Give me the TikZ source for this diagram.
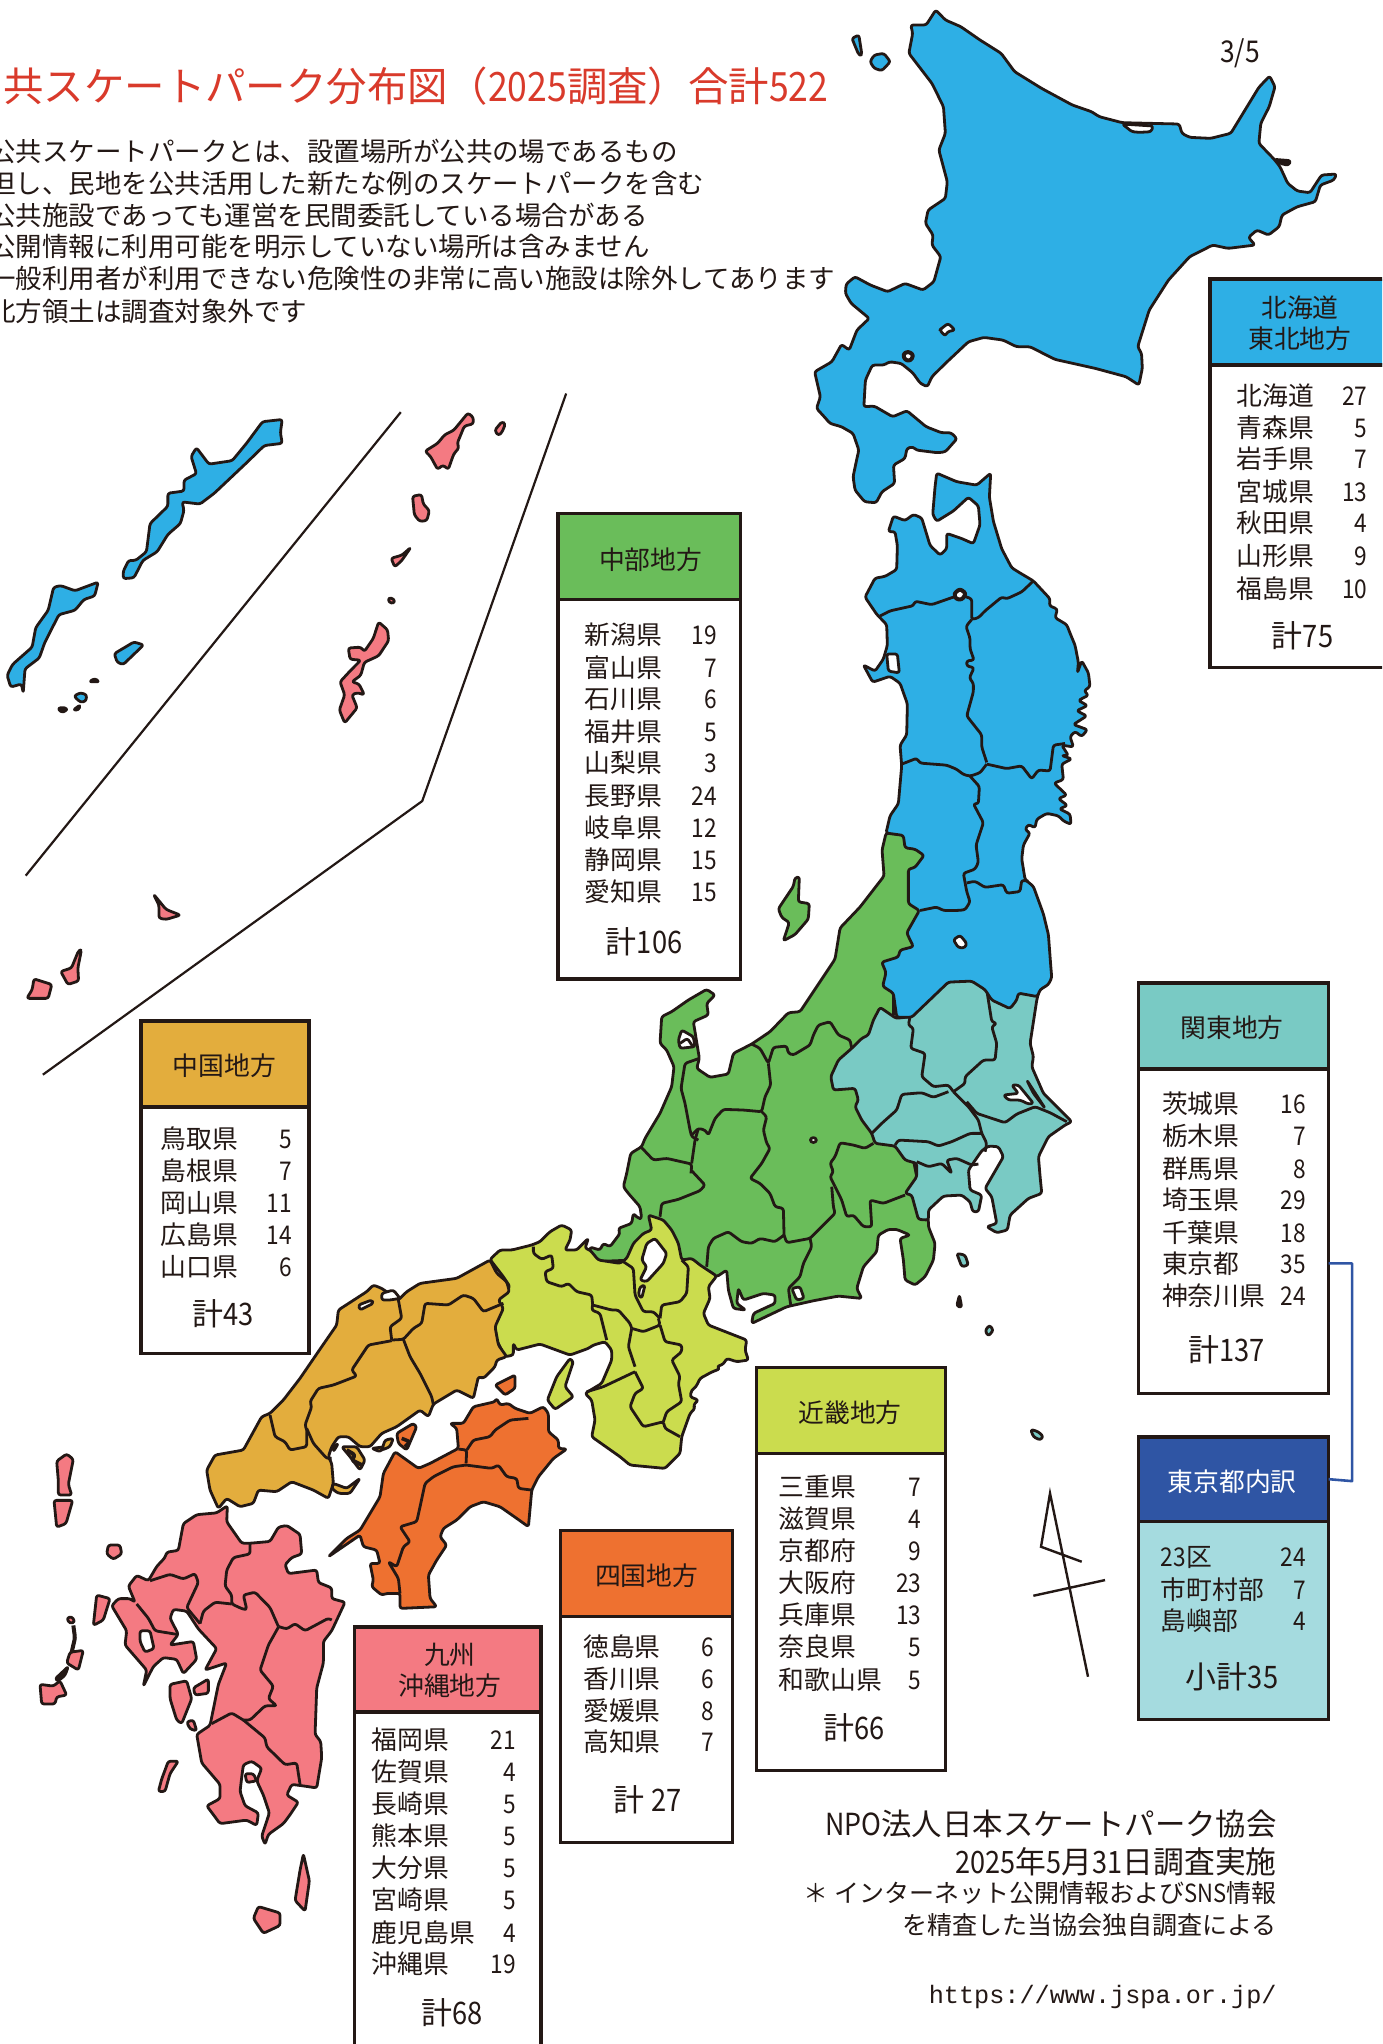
\documentclass[tikz,border=0pt]{standalone}
\usepackage{fontspec}
\setmainfont{Noto Sans CJK JP}
\newfontfamily\nar[FakeStretch=0.88]{Noto Sans CJK JP}
\newfontfamily\urlf{Liberation Mono}
\definecolor{ln}{HTML}{231815}
\definecolor{cblue}{HTML}{2EAFE5}
\definecolor{cgreen}{HTML}{6ABD5A}
\definecolor{cteal}{HTML}{79CAC4}
\definecolor{ckinki}{HTML}{CBDC4E}
\definecolor{cchu}{HTML}{E3AD3D}
\definecolor{cshi}{HTML}{EE7130}
\definecolor{ckyu}{HTML}{F47A82}
\definecolor{ctitle}{HTML}{D93A2B}
\definecolor{cnavy}{HTML}{2F55A4}
\definecolor{clight}{HTML}{A5DBDF}
\newcounter{nn}
\tikzset{
 reg/.style={draw=ln,line width=1.4pt,line join=round,rounded corners=1.2pt},
 bd/.style={draw=ln,line width=1.4pt,line join=round,rounded corners=1.2pt},
 lake/.style={reg,fill=white},
 lin/.style={draw=ln,line width=1.1pt},
 z1/.style={shift={(780,0)},x=.1923pt,y=-.1667pt},
 z2/.style={shift={(780,480)},x=.1667pt,y=-.1722pt},
 z3/.style={shift={(600,960)},x=.1667pt,y=-.1667pt},
 z4/.style={shift={(470,1170)},x=.1667pt,y=-.1667pt},
 z5/.style={shift={(190,1250)},x=.1667pt,y=-.1667pt},
 z6/.style={shift={(30,1420)},x=.1667pt,y=-.1786pt},
 z7/.style={shift={(0,400)},x=.1786pt,y=-.2168pt},
 z9/.style={shift={(1000,1240)},x=.1667pt,y=-.1667pt},
 disp/.style={x=.6519pt,y=-.6519pt},
 txt/.style={inner sep=0pt,text=ln,text height=11.4pt,text depth=1.4pt,font=\fontsize{12.9pt}{14pt}\selectfont},
 tot/.style={inner sep=0pt,text=ln,font=\fontsize{15.5pt}{17pt}\selectfont},
 box/.style={draw=ln,line width=1.7pt,inner sep=0pt,outer sep=0pt,anchor=north west},
}
\newcommand\rw[5]{\stepcounter{nn}\node[txt,anchor=west] (r\thenn) at (#1,#3) {#4};\stepcounter{nn}\node[txt,anchor=east] (r\thenn) at (#2,#3) {\nar #5};}
\newcommand\lbl[3]{\stepcounter{nn}\node[txt] (r\thenn) at (#1,#2) {#3};}
\newcommand\totl[3]{\stepcounter{nn}\node[tot] (r\thenn) at (#1,#2) {#3};}
\newcommand\panel[7]{%
 \node[box,fill=white,minimum width={(#6-#2)*.6519pt},minimum height={(#5-#4)*.6519pt}] (#1body) at (#2,#4) {};
 \node[box,fill=#7,minimum width={(#6-#2)*.6519pt},minimum height={(#4-#3)*.6519pt}] (#1head) at (#2,#3) {};}
\begin{document}
\begin{tikzpicture}[x=.5pt,y=-.5pt]
\path[use as bounding box,clip] (0,0) rectangle (1382,2044);
\fill[white] (0,0) rectangle (1382,2044);

% Chubu
\begin{scope}[z3]
\draw[reg,fill=cgreen] (858,-381) -- (915,-375) -- (981,-309) -- (1000,-96) -- (880,100) -- (880,170) -- (850,300) -- (850,520) -- (940,600) -- (960,700) -- (985,780) -- (985,800) -- (1005,850) -- (1000,900) -- (975,950) -- (945,975) -- (915,960) -- (910,900) -- (900,835) -- (930,825) -- (890,808) -- (865,808) -- (835,825) -- (830,875) -- (790,920) -- (770,985) -- (785,1015) -- (715,1008) -- (640,1022) -- (560,1040) -- (455,1090) -- (460,1060) -- (525,1030) -- (525,1005) -- (490,1000) -- (430,1020) -- (415,985) -- (410,1030) -- (437,1050) -- (400,1045) -- (385,990) -- (380,930) -- (350,950) -- (250,900) -- (150,850) -- (100,900) -- (-30,905) -- (-30,861) -- (0,870) -- (10,850) -- (30,860) -- (60,820) -- (55,805) -- (95,790) -- (100,760) -- (115,775) -- (125,775) -- (120,740) -- (85,700) -- (70,680) -- (80,640) -- (92,580) -- (125,560) -- (135,535) -- (180,460) -- (215,380) -- (222,320) -- (200,270) -- (180,250) -- (185,170) -- (215,155) -- (265,120) -- (320,88) -- (345,105) -- (320,130) -- (325,165) -- (280,185) -- (298,295) -- (290,325) -- (330,352) -- (385,342) -- (400,280) -- (455,252) -- (510,215) -- (565,158) -- (600,155) -- (640,95) -- (690,20) -- (705,-3) -- (720,-96) -- (780,-159) -- (852,-252) -- (846,-330) -- cycle;
\draw[lake] (245,210) -- (280,230) -- (285,260) -- (240,265) -- (235,240) -- cycle;
\draw[bd] (240,250) -- (262,235) -- (280,262);
\draw[lake] (575,985) -- (600,980) -- (612,1015) -- (590,1020) -- cycle;
\draw[lake] (628,540) -- (640,530) -- (652,540) -- (640,550) -- cycle;
\draw[bd] (455,252) -- (480,265) -- (505,310) -- (520,262) -- (560,258) -- (565,280) -- (580,285) -- (630,255) -- (640,225) -- (655,195) -- (690,185) -- (715,225) -- (750,240) -- (755,265);
\draw[bd] (505,310) -- (512,375) -- (495,410) -- (485,455) -- (430,450) -- (370,448) -- (345,475) -- (325,525) -- (315,510) -- (295,505) -- (275,525);
\draw[bd] (298,295) -- (255,310) -- (243,385) -- (255,430) -- (270,510) -- (275,530) -- (295,540);
\draw[bd] (125,563) -- (160,600) -- (200,595) -- (275,612) -- (273,640);
\draw[bd] (295,505) -- (285,540) -- (275,610);
\draw[bd] (273,630) -- (315,675) -- (300,692) -- (235,718) -- (185,730) -- (180,770);
\draw[bd] (485,455) -- (500,470) -- (490,510) -- (500,550) -- (510,565) -- (485,610) -- (450,655) -- (480,670) -- (510,700) -- (525,740) -- (550,745) -- (552,825);
\draw[bd] (552,825) -- (525,845) -- (480,835) -- (455,850) -- (425,845) -- (385,815) -- (340,835) -- (325,860) -- (320,920);
\draw[bd] (552,825) -- (560,848) -- (630,835) -- (640,825) -- (705,760) -- (700,740) -- (695,680);
\draw[bd] (820,550) -- (795,565) -- (760,555) -- (720,548) -- (705,590) -- (690,610) -- (700,635) -- (690,650) -- (705,680);
\draw[bd] (705,680) -- (725,720) -- (740,770) -- (760,765) -- (790,800) -- (815,800) -- (810,720) -- (850,730) -- (915,705);
\draw[bd] (630,835) -- (635,860) -- (610,910) -- (600,950) -- (565,985) -- (572,1035);
\end{scope}
\begin{scope}[z2]
\draw[reg,fill=cgreen] (45,1155) -- (58,1152) -- (55,1225) -- (88,1230) -- (85,1275) -- (45,1320) -- (10,1338) -- (28,1285) -- (5,1270) -- (-5,1245) -- (40,1180) -- cycle;
\end{scope}

% Kanto
\begin{scope}[z3]
\draw[reg,fill=cteal] (755,265) -- (785,235) -- (805,225) -- (820,180) -- (840,142) -- (888,175) -- (930,170) -- (1040,60) -- (1250,50) -- (1320,80) -- (1310,120) -- (1290,250) -- (1300,290) -- (1295,320) -- (1330,400) -- (1415,485) -- (1395,495) -- (1345,530) -- (1315,590) -- (1320,650) -- (1325,700) -- (1285,715) -- (1230,765) -- (1222,810) -- (1190,818) -- (1160,800) -- (1190,790) -- (1175,710) -- (1155,685) -- (1210,590) -- (1195,560) -- (1165,558) -- (1145,572) -- (1105,630) -- (1110,690) -- (1145,705) -- (1135,755) -- (1118,755) -- (1110,725) -- (1085,705) -- (1030,708) -- (985,750) -- (985,780) -- (955,778) -- (935,705) -- (915,700) -- (950,650) -- (950,610) -- (915,600) -- (885,558) -- (825,550) -- (815,520) -- (785,480) -- (765,440) -- (775,420) -- (765,385) -- (700,390) -- (692,350) -- (715,300) -- cycle;
\draw[bd] (930,170) -- (925,195) -- (940,205) -- (932,265) -- (975,280) -- (965,350) -- (1000,380) -- (1045,375) -- (1060,395);
\draw[bd] (1160,90) -- (1175,185) -- (1190,190) -- (1175,200) -- (1190,250) -- (1185,300) -- (1150,300) -- (1095,350) -- (1095,370) -- (1060,395);
\draw[bd] (1045,395) -- (1000,412) -- (965,398) -- (905,403) -- (890,450) -- (845,490) -- (815,520);
\draw[bd] (1060,395) -- (1105,440) -- (1135,480) -- (1145,520) -- (1160,550) -- (1155,575);
\draw[bd] (1100,425) -- (1130,460) -- (1215,488) -- (1250,462) -- (1305,440) -- (1350,458) -- (1400,485);
\draw[lake] (1210,405) -- (1255,400) -- (1235,375) -- (1255,375) -- (1300,430) -- (1285,432) -- (1260,420) -- (1225,420) -- cycle;
\draw[bd] (1280,360) -- (1335,445) -- (1300,400) -- cycle;
\draw[bd] (885,555) -- (895,540) -- (985,545) -- (1015,558) -- (1055,545) -- (1110,520) -- (1145,520);
\draw[bd] (950,605) -- (985,620) -- (1025,610) -- (1055,640) -- (1040,600) -- (1070,595) -- (1115,615) -- (1135,612);
\draw[reg,fill=cteal] (1070,880) -- (1095,885) -- (1105,915) -- (1085,920) -- cycle;
\draw[reg,fill=ln] (1078,1005) -- (1085,1042) -- (1070,1038) -- cycle;
\draw[reg,fill=cteal] (1168,1095) -- (1180,1110) -- (1165,1128) -- (1155,1112) -- cycle;
\end{scope}
\begin{scope}[z9]
\draw[reg,fill=cteal] (92,568) -- (115,575) -- (130,590) -- (120,600) -- (100,590) -- cycle;
\end{scope}

% Tohoku
\begin{scope}[z2]
\draw[reg,fill=cblue] (470,-20) -- (530,5) -- (590,15) -- (632,-20) -- (628,50) -- (640,120) -- (665,200) -- (695,255) -- (720,270) -- (760,293) -- (810,345) -- (808,365) -- (832,375) -- (825,400) -- (860,420) -- (870,445) -- (885,480) -- (895,530) -- (892,560) -- (905,525) -- (925,560) -- (930,600) -- (912,612) -- (925,625) -- (895,640) -- (922,655) -- (890,670) -- (920,685) -- (880,710) -- (922,725) -- (905,745) -- (885,730) -- (870,745) -- (880,775) -- (845,770) -- (865,800) -- (845,800) -- (875,810) -- (845,825) -- (850,870) -- (822,880) -- (860,915) -- (835,925) -- (862,945) -- (838,955) -- (870,970) -- (873,1000) -- (850,990) -- (835,975) -- (800,968) -- (770,985) -- (765,1010) -- (745,1000) -- (735,1015) -- (750,1025) -- (730,1060) -- (725,1100) -- (735,1160) -- (760,1180) -- (790,1260) -- (805,1320) -- (812,1410) -- (815,1445) -- (805,1465) -- (780,1480) -- (772,1500) -- (715,1490) -- (710,1510) -- (690,1535) -- (635,1510) -- (615,1480) -- (575,1455) -- (505,1458) -- (395,1560) -- (350,1560) -- (340,1490) -- (308,1470) -- (318,1430) -- (305,1400) -- (355,1385) -- (360,1365) -- (400,1355) -- (380,1315) -- (418,1250) -- (385,1230) -- (385,1130) -- (405,1125) -- (432,1090) -- (405,1072) -- (375,1068) -- (370,1032) -- (318,1025) -- (330,975) -- (355,940) -- (365,830) -- (360,770) -- (380,740) -- (382,650) -- (360,590) -- (330,570) -- (278,587) -- (250,537) -- (285,555) -- (310,520) -- (322,480) -- (320,420) -- (290,390) -- (255,340) -- (285,285) -- (315,280) -- (350,260) -- (352,190) -- (345,150) -- (325,150) -- (340,105) -- (375,118) -- (400,100) -- (425,110) -- (450,190) -- (480,218) -- (500,200) -- (500,155) -- (545,170) -- (580,185) -- (600,130) -- (595,75) -- (565,50) -- (520,90) -- (470,120) -- (458,100) -- (465,20) -- cycle;
\draw[lake] (320,505) -- (352,505) -- (358,560) -- (325,555) -- cycle;
\draw[bd] (300,395) -- (330,380) -- (400,365) -- (405,352) -- (455,362) -- (520,340) -- (545,335) -- (575,345) -- (575,405) -- (595,400) -- (615,380) -- (665,340) -- (680,345) -- (725,325) -- (760,293);
\draw[lake,line width=2pt] (522,330) -- (540,316) -- (558,330) -- (545,348) -- (527,345) -- cycle;
\draw[bd] (575,405) -- (558,425) -- (570,460) -- (570,490) -- (582,523) -- (560,525) -- (560,540) -- (582,545) -- (568,575) -- (580,590) -- (580,615) -- (560,685) -- (605,740) -- (605,775) -- (620,820);
\draw[bd] (365,825) -- (410,808) -- (420,822) -- (500,828) -- (530,840) -- (550,855) -- (570,860) -- (600,850) -- (620,825);
\draw[bd] (620,825) -- (680,838) -- (725,830) -- (755,868) -- (775,842) -- (810,845) -- (820,770) -- (855,765);
\draw[bd] (570,860) -- (598,890) -- (595,940) -- (580,940) -- (610,995) -- (588,1060) -- (595,1110) -- (585,1130) -- (550,1142) -- (560,1195) -- (570,1225) -- (555,1248) -- (530,1250) -- (490,1250) -- (470,1240) -- (420,1250);
\draw[bd] (560,1170) -- (585,1165) -- (615,1183) -- (670,1175) -- (680,1200) -- (720,1195) -- (725,1162) -- (745,1165);
\draw[lake] (520,1335) -- (540,1322) -- (560,1345) -- (555,1358) -- (535,1358) -- cycle;
\end{scope}

% Hokkaido
\begin{scope}[z1]
\draw[reg,fill=cblue] (405,30) -- (430,60) -- (470,80) -- (520,120) -- (575,160) -- (610,215) -- (680,265) -- (760,315) -- (810,335) -- (830,350) -- (890,368) -- (1038,372) -- (1045,400) -- (1065,412) -- (1120,415) -- (1172,400) -- (1245,262) -- (1273,228) -- (1287,260) -- (1272,320) -- (1250,370) -- (1245,430) -- (1285,478) -- (1300,500) -- (1320,550) -- (1345,573) -- (1378,578) -- (1408,525) -- (1447,522) -- (1440,540) -- (1405,555) -- (1392,605) -- (1345,620) -- (1305,645) -- (1298,680) -- (1270,705) -- (1240,690) -- (1218,712) -- (1235,735) -- (1165,745) -- (1125,735) -- (1065,770) -- (1010,840) -- (960,930) -- (930,1040) -- (940,1060) -- (942,1105) -- (933,1155) -- (900,1130) -- (820,1105) -- (715,1078) -- (650,1040) -- (615,1040) -- (580,1020) -- (530,1012) -- (490,1025) -- (430,1090) -- (395,1130) -- (383,1160) -- (365,1150) -- (345,1118) -- (315,1090) -- (285,1085) -- (270,1095) -- (240,1095) -- (222,1140) -- (218,1220) -- (245,1218) -- (293,1250) -- (330,1232) -- (380,1280) -- (420,1298) -- (445,1298) -- (460,1316) -- (430,1355) -- (410,1358) -- (355,1350) -- (345,1340) -- (330,1345) -- (325,1375) -- (295,1395) -- (298,1450) -- (265,1475) -- (250,1508) -- (220,1505) -- (195,1470) -- (190,1430) -- (200,1375) -- (205,1350) -- (190,1300) -- (160,1280) -- (130,1270) -- (115,1250) -- (95,1225) -- (105,1190) -- (90,1115) -- (135,1085) -- (160,1033) -- (180,1050) -- (200,990) -- (232,955) -- (185,910) -- (170,880) -- (172,852) -- (195,830) -- (235,855) -- (280,875) -- (325,850) -- (372,870) -- (400,845) -- (418,770) -- (395,735) -- (398,705) -- (378,670) -- (385,630) -- (430,595) -- (435,545) -- (413,450) -- (430,400) -- (425,320) -- (395,250) -- (335,160) -- (345,100) -- (340,75) -- (380,75) -- cycle;
\draw[lake] (890,372) -- (970,378) -- (965,395) -- (935,397) -- (915,395) -- cycle;
\draw[lake] (420,985) -- (437,970) -- (455,990) -- (435,995) -- (430,1008) -- (415,990) -- cycle;
\draw[lake,line width=2pt] (320,1062) -- (333,1054) -- (347,1064) -- (340,1082) -- (325,1080) -- cycle;
\draw[reg,fill=ln] (1285,478) -- (1328,482) -- (1322,496) -- (1300,490) -- cycle;
\draw[reg,fill=cblue] (234,185) -- (245,165) -- (270,160) -- (287,185) -- (265,212) -- (245,205) -- cycle;
\draw[reg,fill=cblue] (187,115) -- (205,105) -- (213,165) -- (205,165) -- cycle;
\end{scope}

% Kinki
\begin{scope}[z4]
\draw[reg,fill=ckinki] (60,268) -- (90,240) -- (125,240) -- (185,225) -- (210,215) -- (240,185) -- (275,165) -- (305,180) -- (300,210) -- (285,240) -- (320,240) -- (355,205) -- (345,235) -- (360,240) -- (385,270) -- (450,280) -- (470,265) -- (490,220) -- (520,190) -- (545,180) -- (535,135) -- (580,150) -- (605,180) -- (625,220) -- (635,270) -- (665,265) -- (690,285) -- (740,318) -- (715,350) -- (720,385) -- (700,430) -- (715,465) -- (830,510) -- (825,540) -- (835,570) -- (800,575) -- (770,565) -- (760,582) -- (740,590) -- (750,596) -- (725,606) -- (690,625) -- (678,650) -- (665,660) -- (660,680) -- (685,690) -- (670,705) -- (675,715) -- (660,730) -- (635,800) -- (630,850) -- (585,895) -- (480,885) -- (450,860) -- (365,800) -- (375,750) -- (365,690) -- (345,670) -- (395,640) -- (425,570) -- (425,540) -- (405,515) -- (370,525) -- (355,535) -- (300,555) -- (210,522) -- (140,540) -- (130,520) -- (130,555) -- (105,560) -- (80,510) -- (72,465) -- (90,410) -- (85,385) -- (120,350) -- (100,320) -- cycle;
\draw[reg,fill=ckinki] (300,565) -- (310,575) -- (285,650) -- (310,680) -- (255,718) -- (232,690) -- (260,620) -- cycle;
\draw[lake] (530,220) -- (555,205) -- (590,250) -- (580,280) -- (530,335) -- (510,330) -- (530,290) -- (515,270) -- cycle;
\draw[lake] (510,350) -- (525,345) -- (515,385) -- (505,375) -- cycle;
\draw[bd] (190,230) -- (190,250) -- (215,268) -- (245,255) -- (250,295) -- (225,305) -- (230,335) -- (275,350) -- (295,340) -- (320,365) -- (365,375) -- (368,405);
\draw[bd] (368,405) -- (365,420) -- (390,430) -- (410,510);
\draw[bd] (368,405) -- (425,420) -- (445,420) -- (480,460) -- (485,475);
\draw[bd] (460,275) -- (490,295) -- (495,375) -- (520,425) -- (550,425) -- (570,445);
\draw[bd] (485,475) -- (520,485) -- (570,465) -- (565,445);
\draw[bd] (485,475) -- (475,530) -- (495,590);
\draw[bd] (350,665) -- (400,650) -- (495,605);
\draw[bd] (570,465) -- (585,515) -- (635,525) -- (635,545) -- (605,570) -- (630,620) -- (625,640) -- (635,695) -- (590,725) -- (580,755);
\draw[bd] (495,605) -- (520,655) -- (495,670) -- (480,710) -- (520,770) -- (580,755) -- (585,775) -- (630,800);
\draw[bd] (570,445) -- (575,405) -- (630,395) -- (650,370) -- (655,290) -- (635,270);
\end{scope}

% Chugoku
\begin{scope}[z5]
\draw[reg,fill=cchu] (900,30) -- (920,70) -- (950,95) -- (958,125) -- (925,150) -- (940,175) -- (915,230) -- (925,285) -- (950,320) -- (920,330) -- (915,350) -- (880,385) -- (865,380) -- (850,445) -- (800,420) -- (730,462) -- (715,500) -- (690,480) -- (620,530) -- (575,550) -- (540,590) -- (510,590) -- (475,560) -- (445,560) -- (425,590) -- (415,620) -- (425,640) -- (430,700) -- (415,745) -- (370,720) -- (305,695) -- (260,725) -- (205,720) -- (190,760) -- (150,770) -- (110,745) -- (85,775) -- (60,720) -- (50,660) -- (75,615) -- (160,600) -- (215,500) -- (240,490) -- (280,450) -- (330,385) -- (395,290) -- (440,225) -- (445,180) -- (530,125) -- (550,105) -- (575,115) -- (625,150) -- (650,125) -- (690,100) -- (800,85) -- cycle;
\draw[lake] (505,165) -- (545,150) -- (550,160) -- (510,180) -- cycle;
\draw[lake] (575,130) -- (610,120) -- (630,145) -- (600,150) -- (575,150) -- cycle;
\draw[bd] (625,150) -- (635,205) -- (600,230) -- (605,270);
\draw[bd] (605,270) -- (640,268) -- (670,235) -- (695,220) -- (705,160) -- (775,165) -- (820,135) -- (850,145) -- (880,185) -- (940,160);
\draw[bd] (605,272) -- (535,285) -- (485,360) -- (500,378) -- (430,405) -- (385,415) -- (360,455) -- (365,470) -- (345,525) -- (350,540);
\draw[bd] (640,268) -- (660,320) -- (690,370) -- (725,440) -- (730,465);
\draw[bd] (240,495) -- (255,560) -- (285,575) -- (300,600) -- (350,590) -- (350,540);
\draw[bd] (350,535) -- (370,580) -- (410,625) -- (425,625);
\draw[reg,fill=cchu] (455,590) -- (500,590) -- (525,630) -- (510,660) -- (480,620) -- cycle;
\draw[reg,line width=2pt] (470,600) -- (495,615) -- (485,630) -- (515,645);
\draw[reg,fill=ln] (430,590) -- (445,580) -- (430,605) -- cycle;
\draw[reg,fill=cchu] (430,700) -- (470,715) -- (510,685) -- (480,730) -- (445,730) -- (425,715) -- cycle;
\draw[reg,fill=cchu] (545,595) -- (585,590) -- (570,605) -- cycle;
\draw[reg,fill=cchu] (585,570) -- (610,565) -- (600,590) -- (575,600) -- cycle;
\draw[reg,fill=cshi] (620,550) -- (670,520) -- (680,530) -- (650,600) -- (625,580) -- cycle;
\draw[reg,line width=1.8pt] (635,565) -- (660,575) -- (645,590);
% Shikoku
\draw[reg,fill=cshi] (915,405) -- (975,375) -- (975,415) -- (945,435) -- (930,420) -- cycle;
\draw[reg,fill=cshi] (805,595) -- (800,535) -- (780,520) -- (820,520) -- (850,470) -- (915,455) -- (920,445) -- (930,465) -- (955,460) -- (975,475) -- (1020,490) -- (1060,470) -- (1075,490) -- (1075,545) -- (1105,570) -- (1105,595) -- (1130,597) -- (1090,625) -- (1045,680) -- (1025,720) -- (1015,830) -- (980,805) -- (930,770) -- (880,755) -- (840,770) -- (800,810) -- (760,835) -- (750,860) -- (770,885) -- (740,930) -- (715,975) -- (720,1045) -- (740,1070) -- (630,1075) -- (630,1030) -- (590,1030) -- (575,1035) -- (545,1010) -- (550,990) -- (540,940) -- (570,940) -- (560,900) -- (520,890) -- (510,855) -- (415,920) -- (470,865) -- (510,840) -- (570,740) -- (580,670) -- (615,605) -- (685,655) -- (720,640) -- cycle;
\draw[bd] (805,597) -- (830,600) -- (828,640);
\draw[bd] (830,600) -- (850,570) -- (900,560) -- (915,540) -- (960,510) -- (1015,505);
\draw[bd] (828,645) -- (790,650) -- (730,680) -- (705,700) -- (690,770) -- (680,815) -- (630,830) -- (660,875) -- (640,890) -- (620,950) -- (595,935) -- (625,985) -- (630,1030);
\draw[bd] (828,645) -- (905,655) -- (925,645) -- (950,680) -- (980,685) -- (985,715) -- (1025,720);
\end{scope}

% Kyushu
\begin{scope}[z6]
\draw[reg,fill=ckyu] (592,240) -- (590,285) -- (635,345) -- (660,345) -- (720,340) -- (745,300) -- (770,295) -- (810,320) -- (815,375) -- (785,385) -- (765,405) -- (775,430) -- (860,420) -- (865,455) -- (905,470) -- (905,500) -- (945,510) -- (925,550) -- (905,590) -- (880,620) -- (880,680) -- (860,750) -- (855,880) -- (872,900) -- (875,945) -- (860,1030) -- (825,1025) -- (785,1020) -- (770,1050) -- (805,1070) -- (780,1105) -- (760,1130) -- (715,1160) -- (705,1188) -- (695,1165) -- (718,1100) -- (700,1050) -- (680,1010) -- (695,975) -- (665,955) -- (640,965) -- (635,1000) -- (630,1040) -- (645,1080) -- (685,1100) -- (680,1135) -- (650,1120) -- (570,1130) -- (530,1080) -- (570,1060) -- (570,1020) -- (515,960) -- (500,880) -- (540,855) -- (565,740) -- (590,680) -- (525,700) -- (560,640) -- (505,585) -- (470,535) -- (430,530) -- (420,555) -- (445,600) -- (420,630) -- (490,620) -- (500,670) -- (460,710) -- (440,670) -- (400,665) -- (370,690) -- (340,745) -- (350,700) -- (285,630) -- (290,590) -- (245,520) -- (265,500) -- (300,500) -- (315,510) -- (295,465) -- (320,435) -- (355,450) -- (380,410) -- (405,385) -- (410,370) -- (445,365) -- (460,290) -- (500,265) -- (560,260) -- cycle;
\draw[reg,fill=ckyu] (645,990) -- (670,990) -- (680,1010) -- (650,1015) -- cycle;
\draw[lake] (330,590) -- (360,590) -- (372,640) -- (345,650) -- (330,620) -- cycle;
\draw[bd] (660,345) -- (660,375) -- (610,385) -- (590,420) -- (585,465) -- (605,490) -- (605,515) -- (640,530) -- (650,530) -- (640,490) -- (675,482) -- (720,525) -- (745,578);
\draw[bd] (745,578) -- (770,585) -- (795,570) -- (825,590) -- (895,555) -- (905,560);
\draw[bd] (605,515) -- (555,510) -- (520,535) -- (510,570);
\draw[bd] (510,570) -- (470,525) -- (505,455) -- (495,430) -- (460,445) -- (420,432) -- (360,450);
\draw[bd] (745,580) -- (715,630) -- (690,700) -- (730,745) -- (715,780) -- (740,800) -- (705,800) -- (660,840) -- (640,840);
\draw[bd] (640,840) -- (605,820) -- (545,850);
\draw[bd] (640,840) -- (705,890) -- (710,915) -- (765,965) -- (800,960) -- (810,1020);
\draw[bd] (320,515) -- (355,555) -- (375,590) -- (440,600);
\draw[reg,fill=ckyu] (420,740) -- (470,730) -- (485,780) -- (455,850) -- (440,840) -- (420,780) -- cycle;
\draw[reg,fill=ckyu] (490,750) -- (535,725) -- (535,765) -- (495,770) -- cycle;
\draw[reg,fill=ckyu] (470,845) -- (490,840) -- (500,870) -- (480,865) -- cycle;
\draw[reg,fill=ckyu] (200,490) -- (240,500) -- (220,560) -- (190,575) -- cycle;
\draw[reg,fill=ckyu] (235,350) -- (270,350) -- (275,375) -- (250,390) -- (230,375) -- cycle;
\draw[reg,fill=ckyu] (80,115) -- (110,95) -- (130,110) -- (115,180) -- (125,210) -- (85,210) -- (85,170) -- cycle;
\draw[reg,fill=ckyu] (72,225) -- (128,225) -- (108,290) -- (80,300) -- cycle;
\draw[reg,fill=ckyu] (30,740) -- (70,745) -- (90,730) -- (110,770) -- (80,775) -- (75,795) -- (35,795) -- cycle;
\draw[reg,fill=ckyu] (120,650) -- (160,645) -- (145,700) -- (110,680) -- cycle;
\draw[reg,fill=ln] (75,725) -- (115,690) -- (105,715) -- (85,730) -- cycle;
\draw[bd,line width=2pt] (130,575) -- (135,610) -- (125,650);
\draw[reg,fill=ckyu] (110,555) -- (125,550) -- (135,565) -- (120,570) -- cycle;
\draw[reg,fill=ckyu] (415,955) -- (445,955) -- (420,990) -- (405,1040) -- (385,1040) -- (395,1005) -- cycle;
\draw[reg,fill=ckyu] (820,1215) -- (838,1290) -- (825,1375) -- (795,1345) -- (810,1260) -- cycle;
\draw[reg,fill=ckyu] (685,1362) -- (750,1380) -- (750,1415) -- (700,1437) -- (670,1395) -- cycle;
\end{scope}

% Northern territories and Nansei islands
\begin{scope}[z7]
\draw[reg,fill=cblue] (735,50) -- (790,45) -- (785,75) -- (790,100) -- (740,105) -- (690,145) -- (600,215) -- (560,240) -- (510,235) -- (515,255) -- (505,285) -- (470,310) -- (440,350) -- (400,370) -- (375,410) -- (345,412) -- (345,395) -- (360,370) -- (380,370) -- (410,350) -- (420,285) -- (470,245) -- (470,215) -- (515,210) -- (515,185) -- (550,170) -- (535,130) -- (550,110) -- (585,148) -- (650,140) -- (690,100) -- cycle;
\draw[reg,fill=cblue] (150,432) -- (170,428) -- (210,440) -- (275,420) -- (265,452) -- (235,460) -- (210,485) -- (165,495) -- (125,560) -- (110,595) -- (70,620) -- (65,675) -- (60,655) -- (30,662) -- (20,635) -- (35,610) -- (90,570) -- (100,525) -- (135,485) -- cycle;
\draw[reg,fill=cblue] (320,585) -- (375,558) -- (402,565) -- (345,610) -- (328,605) -- cycle;
\draw[reg,fill=cblue] (207,683) -- (225,675) -- (243,680) -- (240,695) -- (225,697) -- cycle;
\draw[reg,fill=ln] (250,650) -- (265,642) -- (278,650) -- cycle;
\draw[reg,fill=ln] (162,710) -- (187,710) -- (185,718) -- (170,720) -- cycle;
\draw[reg,fill=ln] (205,715) -- (225,703) -- (220,715) -- cycle;
\draw[reg,fill=ckyu] (1190,118) -- (1225,100) -- (1245,80) -- (1270,70) -- (1310,30) -- (1325,40) -- (1325,55) -- (1300,60) -- (1280,100) -- (1285,110) -- (1270,125) -- (1255,160) -- (1240,150) -- (1225,160) -- (1205,130) -- cycle;
\draw[reg,fill=ckyu] (1385,70) -- (1405,50) -- (1415,55) -- (1405,75) -- (1395,82) -- cycle;
\draw[reg,fill=ckyu] (1155,222) -- (1180,218) -- (1185,240) -- (1202,255) -- (1195,278) -- (1175,280) -- (1160,265) -- cycle;
\draw[reg,fill=ckyu] (1095,365) -- (1125,358) -- (1150,340) -- (1125,370) -- (1105,385) -- cycle;
\draw[reg,fill=ckyu] (1085,460) -- (1095,455) -- (1107,465) -- (1095,470) -- cycle;
\draw[reg,fill=ckyu] (1060,512) -- (1085,530) -- (1088,555) -- (1060,590) -- (1020,605) -- (1010,635) -- (985,650) -- (1005,655) -- (1020,680) -- (1000,675) -- (985,680) -- (1000,710) -- (965,745) -- (950,715) -- (965,680) -- (952,650) -- (980,625) -- (1010,600) -- (980,598) -- (975,572) -- (1010,570) -- (1020,580) -- (1045,550) -- cycle;
\draw[reg,fill=ckyu] (445,1195) -- (445,1165) -- (430,1140) -- (465,1175) -- (505,1188) -- (465,1198) -- cycle;
\draw[reg,fill=ckyu] (170,1318) -- (200,1310) -- (220,1270) -- (228,1268) -- (218,1310) -- (220,1340) -- (190,1348) -- cycle;
\draw[reg,fill=ckyu] (95,1335) -- (145,1348) -- (135,1380) -- (75,1380) -- (90,1360) -- cycle;
\coordinate (la) at (1122,28); \coordinate (lb) at (72,1097);
\coordinate (lc) at (1585,-15); \coordinate (ld) at (1182,925); \coordinate (le) at (120,1556);
\draw[lin] (la) -- (lb);
\draw[lin] (lc) -- (ld) -- (le);
\end{scope}

% North arrow
\begin{scope}[z9]
\coordinate (na) at (150,760); \coordinate (nb) at (123,920); \coordinate (nc) at (245,965); \coordinate (nd) at (264,1310);
\coordinate (ne) at (100,1067); \coordinate (nf) at (315,1020);
\draw[lin,line width=1.2pt] (nc) -- (nb) -- (na) -- (nd);
\draw[lin,line width=1.2pt] (ne) -- (nf);
\end{scope}

% Panels
\begin{scope}[disp]
\panel{toh}{928}{214}{280}{512}{1080}{cblue}
\lbl{997}{236}{北海道}\lbl{997}{260}{東北地方}
\rw{948}{1049}{303}{北海道}{27}\rw{948}{1049}{328}{青森県}{5}\rw{948}{1049}{352}{岩手県}{7}\rw{948}{1049}{377}{宮城県}{13}\rw{948}{1049}{401}{秋田県}{4}\rw{948}{1049}{426}{山形県}{9}\rw{948}{1049}{451}{福島県}{10}
\totl{999}{488}{計{\nar 75}}

\panel{chb}{428}{394}{460}{751}{568}{cgreen}
\lbl{499}{429}{中部地方}
\rw{448}{550}{487}{新潟県}{19}\rw{448}{550}{512}{富山県}{7}\rw{448}{550}{536}{石川県}{6}\rw{448}{550}{561}{福井県}{5}\rw{448}{550}{585}{山梨県}{3}\rw{448}{550}{610}{長野県}{24}\rw{448}{550}{635}{岐阜県}{12}\rw{448}{550}{659}{静岡県}{15}\rw{448}{550}{684}{愛知県}{15}
\totl{494}{722}{計{\nar 106}}

\panel{chg}{108}{783}{849}{1038}{237}{cchu}
\lbl{172}{817}{中国地方}
\rw{123}{224}{873}{鳥取県}{5}\rw{123}{224}{898}{島根県}{7}\rw{123}{224}{922}{岡山県}{11}\rw{123}{224}{947}{広島県}{14}\rw{123}{224}{971}{山口県}{6}
\totl{171}{1008}{計{\nar 43}}

\panel{knt}{873}{754}{820}{1069}{1019}{cteal}
\lbl{945}{788}{関東地方}
\rw{891}{1002}{846}{茨城県}{16}\rw{891}{1002}{871}{栃木県}{7}\rw{891}{1002}{896}{群馬県}{8}\rw{891}{1002}{920}{埼玉県}{29}\rw{891}{1002}{945}{千葉県}{18}\rw{891}{1002}{969}{東京都}{35}\rw{891}{1002}{994}{神奈川県}{24}
\totl{941}{1035}{計{\nar 137}}

\panel{tky}{873}{1102}{1167}{1319}{1019}{cnavy}
\node[box,fill=clight,minimum width={146*.6519pt},minimum height={152*.6519pt}] (tkybody2) at (873,1167) {};
\stepcounter{nn}\node[txt,text=white] (r\thenn) at (945,1136) {東京都内訳};
\rw{890}{1002}{1194}{{\nar 23}区}{24}\rw{890}{1002}{1219}{市町村部}{7}\rw{890}{1002}{1243}{島嶼部}{4}
\totl{945}{1286}{小計{\nar 35}}

\panel{knk}{580}{1049}{1115}{1358}{725}{ckinki}
\lbl{652}{1083}{近畿地方}
\rw{597}{707}{1140}{三重県}{7}\rw{597}{707}{1165}{滋賀県}{4}\rw{597}{707}{1189}{京都府}{9}\rw{597}{707}{1214}{大阪府}{23}\rw{597}{707}{1238}{兵庫県}{13}\rw{597}{707}{1263}{奈良県}{5}\rw{597}{707}{1288}{和歌山県}{5}
\totl{655}{1325}{計{\nar 66}}

\panel{shk}{430}{1174}{1240}{1413}{562}{cshi}
\lbl{496}{1208}{四国地方}
\rw{447}{548}{1263}{徳島県}{6}\rw{447}{548}{1287}{香川県}{6}\rw{447}{548}{1312}{愛媛県}{8}\rw{447}{548}{1336}{高知県}{7}
\totl{497}{1380}{計 {\nar 27}}

\panel{kyu}{272}{1248}{1313}{1600}{415}{ckyu}
\lbl{345}{1269}{九州}\lbl{345}{1293}{沖縄地方}
\rw{285}{396}{1334}{福岡県}{21}\rw{285}{396}{1359}{佐賀県}{4}\rw{285}{396}{1383}{長崎県}{5}\rw{285}{396}{1408}{熊本県}{5}\rw{285}{396}{1432}{大分県}{5}\rw{285}{396}{1457}{宮崎県}{5}\rw{285}{396}{1482}{鹿児島県}{4}\rw{285}{396}{1506}{沖縄県}{19}
\totl{347}{1544}{計{\nar 68}}

\coordinate (tokyoTop) at (1037,969);
\coordinate (tokyoBot) at (1037,1136);
\coordinate (tokyoRow) at (kntbody.east |- tokyoTop);
\coordinate (tokyoHead) at (tkyhead.east);
\draw[draw=cnavy,line width=1.3pt,line join=round] (tokyoRow) -- (tokyoTop) -- (tokyoBot) -- (tokyoHead);
\end{scope}

% Title and notes
\node[anchor=west,inner sep=0pt,text=ctitle,font=\fontsize{20.2pt}{24pt}\selectfont] (title) at (3,86) {共スケートパーク分布図（{\nar 2025}調査）合計{\nar 522}};
\foreach \n/\y/\t in {n1/151/公共スケートパークとは、設置場所が公共の場であるもの,
 n2/183/但し、民地を公共活用した新たな例のスケートパークを含む,
 n3/215/公共施設であっても運営を民間委託している場合がある,
 n4/247/公開情報に利用可能を明示していない場所は含みません,
 n5/279/一般利用者が利用できない危険性の非常に高い施設は除外してあります,
 n6/311/北方領土は調査対象外です}
 \node[anchor=west,inner sep=0pt,text=ln,font=\fontsize{13.24pt}{15pt}\selectfont] (\n) at (-11,\y) {\t};
\node[inner sep=0pt,text=ln,font=\fontsize{15pt}{17pt}\selectfont] (page) at (1240,53) {\nar 3/5};
\node[anchor=east,inner sep=0pt,text=ln,font=\fontsize{15.2pt}{18pt}\selectfont] (c1) at (1277,1824) {{\nar NPO}法人日本スケートパーク協会};
\node[anchor=east,inner sep=0pt,text=ln,font=\fontsize{15.4pt}{18pt}\selectfont] (c2) at (1277,1862) {{\nar 2025}年{\nar 5}月{\nar 31}日調査実施};
\node[anchor=east,inner sep=0pt,text=ln,font=\fontsize{12.5pt}{15pt}\selectfont] (c3) at (1277,1893) {＊ インターネット公開情報および{\nar SNS}情報};
\node[anchor=east,inner sep=0pt,text=ln,font=\fontsize{12.5pt}{15pt}\selectfont] (c4) at (1277,1925) {を精査した当協会独自調査による};
\node[anchor=east,inner sep=0pt,text=ln,font=\urlf\fontsize{12.6pt}{15pt}\selectfont] (c5) at (1277,1997) {https://www.jspa.or.jp/};
\end{tikzpicture}
\end{document}
